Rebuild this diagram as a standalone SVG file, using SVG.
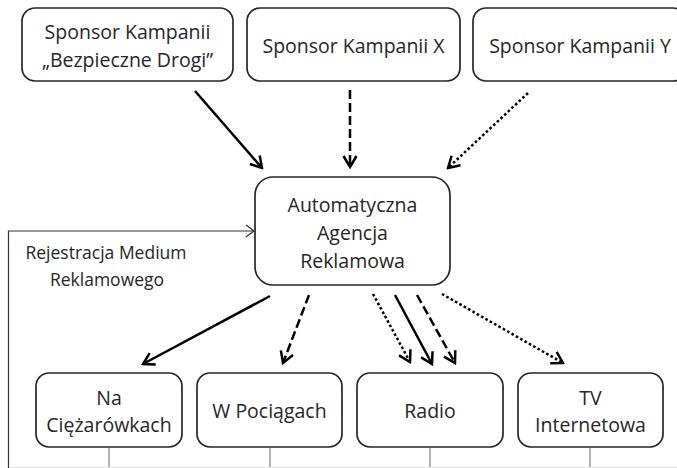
<svg xmlns="http://www.w3.org/2000/svg" width="677" height="468" viewBox="0 0 677 468">
<style>
.box{fill:#fff;stroke:#262626;stroke-width:1.7}
.t{font-family:"Open Sans","Liberation Sans",sans-serif;font-size:19.5px;fill:#262626;text-anchor:middle}
.lbl{font-family:"Open Sans","Liberation Sans",sans-serif;font-size:17.5px;fill:#262626;text-anchor:middle}
.a{stroke:#000;stroke-width:2.5;fill:none}
.solid{marker-end:url(#ah)}
.dash{stroke-dasharray:9 4;marker-end:url(#ah)}
.dot{stroke-dasharray:2.6 2.4;marker-end:url(#ah)}
.thin{stroke:#333;stroke-width:1.2;fill:none}
.stub{stroke:#666;stroke-width:1;fill:none}
</style>
<defs>
<marker id="ah" markerUnits="userSpaceOnUse" viewBox="0 0 14 16" markerWidth="14" markerHeight="16" refX="12" refY="8" orient="auto">
<path d="M1,1.5 L12,8 L1,14.5" fill="none" stroke="#000" stroke-width="2.5"/>
</marker>
</defs>
<rect width="677" height="468" fill="#fff"/>

<g id="sponsor-bd">
<rect class="box" x="22" y="8" width="211" height="73" rx="13"/>
<text class="t" x="127.5" y="39">Sponsor Kampanii</text>
<text class="t" x="127.5" y="67">„Bezpieczne Drogi”</text>
</g>
<g id="sponsor-x">
<rect class="box" x="247" y="8" width="213" height="73" rx="13"/>
<text class="t" x="353.5" y="53">Sponsor Kampanii X</text>
</g>
<g id="sponsor-y">
<rect class="box" x="473" y="8" width="213" height="73" rx="13"/>
<text class="t" x="580" y="53">Sponsor Kampanii Y</text>
</g>

<g id="agencja">
<rect class="box" x="255" y="177" width="195" height="108" rx="18"/>
<text class="t" x="352.5" y="212">Automatyczna</text>
<text class="t" x="352.5" y="240">Agencja</text>
<text class="t" x="352.5" y="268">Reklamowa</text>
</g>

<g id="ciezarowki">
<rect class="box" x="36" y="373" width="146" height="74" rx="13"/>
<text class="t" x="109" y="405">Na</text>
<text class="t" x="109" y="432">Ciężarówkach</text>
</g>
<g id="pociagi">
<rect class="box" x="197" y="373" width="145" height="74" rx="13"/>
<text class="t" x="269.5" y="418">W Pociągach</text>
</g>
<g id="radio">
<rect class="box" x="357" y="373" width="146" height="74" rx="13"/>
<text class="t" x="430" y="418">Radio</text>
</g>
<g id="tv">
<rect class="box" x="518" y="373" width="145" height="74" rx="13"/>
<text class="t" x="590.5" y="405">TV</text>
<text class="t" x="590.5" y="432">Internetowa</text>
</g>

<g id="connectors">
<line class="a solid" x1="195" y1="91" x2="262" y2="168"/>
<line class="a dash" x1="350" y1="90" x2="350" y2="167"/>
<line class="a dot" x1="528" y1="93" x2="448" y2="168"/>

<line class="a solid" x1="270" y1="296" x2="143" y2="364"/>
<line class="a dash" x1="309" y1="295" x2="283" y2="363"/>
<line class="a dot" x1="373" y1="294" x2="410" y2="362"/>
<line class="a solid" x1="395" y1="295" x2="432" y2="364"/>
<line class="a dash" x1="417" y1="295" x2="455" y2="363"/>
<line class="a dot" x1="442" y1="294" x2="563" y2="363"/>

<polyline class="thin" points="8.5,468 8.5,231 254,231"/>
<path class="thin" d="M246,225 L254,231 L246,237"/>

<line class="stub" x1="109" y1="447" x2="109" y2="468"/>
<line class="stub" x1="270" y1="447" x2="270" y2="468"/>
<line class="stub" x1="430" y1="447" x2="430" y2="468"/>
<line class="stub" x1="590" y1="447" x2="590" y2="468"/>
<line x1="9" y1="467.5" x2="677" y2="467.5" stroke="#e2e2e2" stroke-width="1"/>
</g>

<text class="lbl" x="106" y="259">Rejestracja Medium</text>
<text class="lbl" x="107" y="286">Reklamowego</text>
</svg>
